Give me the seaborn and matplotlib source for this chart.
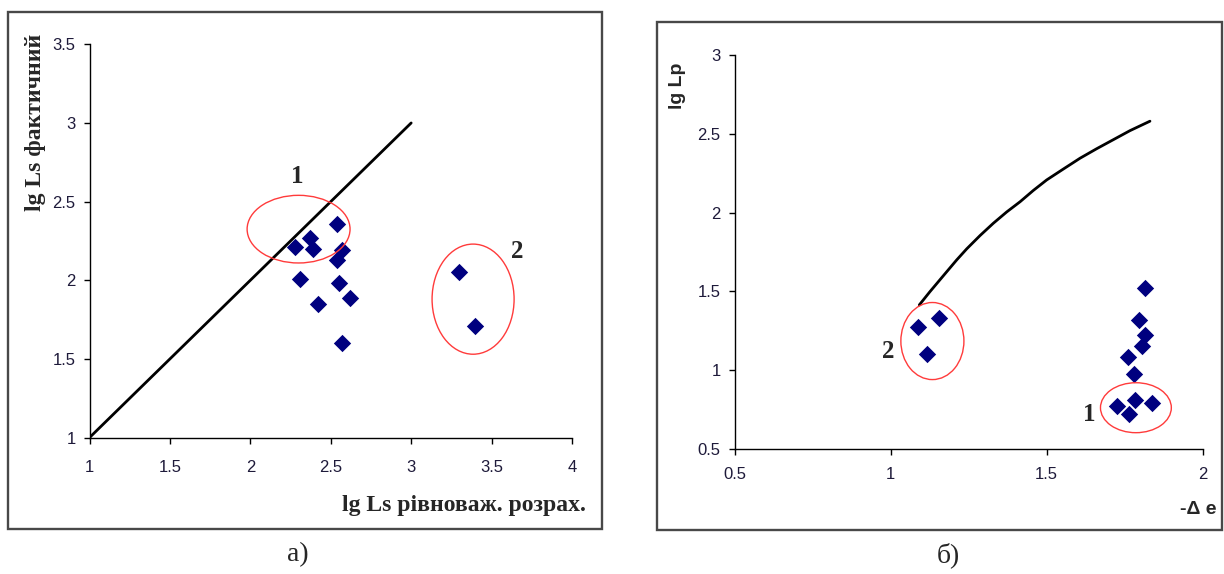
import matplotlib
matplotlib.use("Agg")
import matplotlib.pyplot as plt
from matplotlib.patches import Ellipse, Rectangle
import numpy as np
import pandas as pd
import seaborn as sns

# ---- panel a: measured vs. equilibrium-calculated lg Ls ----
a_x = [2.28, 2.31, 2.37, 2.39, 2.42, 2.54, 2.54, 2.57, 2.55, 2.62, 2.57, 3.30, 3.40]
a_y = [2.21, 2.01, 2.27, 2.20, 1.85, 2.36, 2.13, 2.19, 1.98, 1.89, 1.60, 2.05, 1.71]
a_line_x = [1.0, 3.0]
a_line_y = [1.0, 3.0]

# ---- panel b: lg Lp vs. -Δe ----
b_x = [1.087, 1.156, 1.118, 1.815, 1.797, 1.815, 1.805, 1.762, 1.780, 1.727, 1.765, 1.783, 1.837]
b_y = [1.276, 1.329, 1.103, 1.520, 1.319, 1.223, 1.154, 1.082, 0.976, 0.773, 0.722, 0.811, 0.794]
b_curve_x = [1.092, 1.126, 1.180, 1.212, 1.244, 1.287, 1.329, 1.372, 1.415, 1.457,
             1.500, 1.554, 1.607, 1.660, 1.714, 1.767, 1.831]
b_curve_y = [1.414, 1.498, 1.625, 1.700, 1.770, 1.855, 1.932, 2.004, 2.069, 2.140,
             2.207, 2.277, 2.345, 2.405, 2.463, 2.520, 2.580]

a_xticks = [1, 1.5, 2, 2.5, 3, 3.5, 4]
a_yticks = [1, 1.5, 2, 2.5, 3, 3.5]
b_xticks = [0.5, 1, 1.5, 2]
b_yticks = [0.5, 1, 1.5, 2, 2.5, 3]

sns.set_theme(style="ticks")
plt.rcParams["font.family"] = ["Liberation Sans", "DejaVu Sans"]

W, H = 1224, 574
fig = plt.figure(figsize=(W / 100, H / 100), dpi=100)
fig.patch.set_facecolor("white")

def fx(px):
    return px / W

def fy(py):
    return 1 - py / H

navy = "#00007f"
red = "#ff3b3b"
tick_col = "#1e1a3a"
serif = ["Liberation Serif", "DejaVu Serif"]

# outer frames of both panels
for x0, y0, x1, y1 in [(8, 12, 602, 529), (657, 22, 1222, 530)]:
    fig.patches.append(Rectangle((fx(x0), fy(y1)), fx(x1) - fx(x0), fy(y0) - fy(y1),
                                 transform=fig.transFigure, fill=False,
                                 edgecolor="#484848", linewidth=1.7, zorder=0))

def style_axes(ax, xticks, yticks, xlim, ylim, xpad):
    ax.set_xlim(*xlim)
    ax.set_ylim(*ylim)
    ax.set_xticks(xticks)
    ax.set_yticks(yticks)
    ax.set_xticklabels([f"{t:g}" for t in xticks])
    ax.set_yticklabels([f"{t:g}" for t in yticks])
    for s in ("top", "right"):
        ax.spines[s].set_visible(False)
    for s in ("left", "bottom"):
        ax.spines[s].set_color("black")
        ax.spines[s].set_linewidth(1.0)
    ax.tick_params(axis="both", direction="out", length=4, width=1.0,
                   colors="black", labelcolor=tick_col, labelsize=12)
    ax.tick_params(axis="x", pad=xpad)
    ax.tick_params(axis="y", pad=6)
    ax.set_xlabel("")
    ax.set_ylabel("")
    ax.patch.set_alpha(0)

# ---- panel a ----
ax1 = fig.add_axes([fx(89.5), fy(437.6), fx(572) - fx(89.5), fy(44.3) - fy(437.6)])
sns.lineplot(x=a_line_x, y=a_line_y, ax=ax1, color="black", linewidth=2.0, sort=False)
sns.scatterplot(x=a_x, y=a_y, ax=ax1, marker="D", s=78, color=navy, linewidth=0, zorder=3)
ax1.add_patch(Ellipse((2.30, 2.325), 0.64, 0.43, fill=False, edgecolor=red, linewidth=1.0, zorder=4))
ax1.add_patch(Ellipse((3.385, 1.88), 0.51, 0.70, fill=False, edgecolor=red, linewidth=1.0, zorder=4))
ax1.text(2.29, 2.66, "1", family=serif, fontweight="bold", fontsize=18, ha="center", va="center")
ax1.text(3.66, 2.18, "2", family=serif, fontweight="bold", fontsize=18, ha="center", va="center")
style_axes(ax1, a_xticks, a_yticks, (1, 4), (1, 3.5), xpad=12)

fig.text(fx(36), fy(122), "lg Ls фактичний", family=serif, fontweight="bold",
         fontsize=17, rotation=90, ha="center", va="center")
fig.text(fx(586), fy(506), "lg Ls рівноваж. розрах.", family=serif, fontweight="bold",
         fontsize=17, ha="right", va="center")

# ---- panel b ----
ax2 = fig.add_axes([fx(734.5), fy(449), fx(1202.7) - fx(734.5), fy(55) - fy(449)])
sns.lineplot(x=b_curve_x, y=b_curve_y, ax=ax2, color="black", linewidth=2.0, sort=False)
sns.scatterplot(x=b_x, y=b_y, ax=ax2, marker="D", s=78, color=navy, linewidth=0, zorder=3)
ax2.add_patch(Ellipse((1.134, 1.185), 0.202, 0.489, fill=False, edgecolor=red, linewidth=1.0, zorder=4))
ax2.add_patch(Ellipse((1.786, 0.762), 0.227, 0.317, fill=False, edgecolor=red, linewidth=1.0, zorder=4))
ax2.text(0.994, 1.117, "2", family=serif, fontweight="bold", fontsize=18, ha="center", va="center")
ax2.text(1.637, 0.716, "1", family=serif, fontweight="bold", fontsize=18, ha="center", va="center")
style_axes(ax2, b_xticks, b_yticks, (0.5, 2), (0.5, 3), xpad=9)

fig.text(fx(677), fy(86), "lg Lp", fontweight="bold", fontsize=14,
         rotation=90, ha="center", va="center")
fig.text(fx(1216), fy(510), "-Δ e", fontweight="bold", fontsize=14,
         ha="right", va="center")

# ---- panel captions ----
fig.text(fx(298), fy(555), "а)", family=serif, fontsize=20, ha="center", va="center")
fig.text(fx(948), fy(555), "б)", family=serif, fontsize=20, ha="center", va="center")

fig.savefig("out.png", dpi=100, facecolor="white")
